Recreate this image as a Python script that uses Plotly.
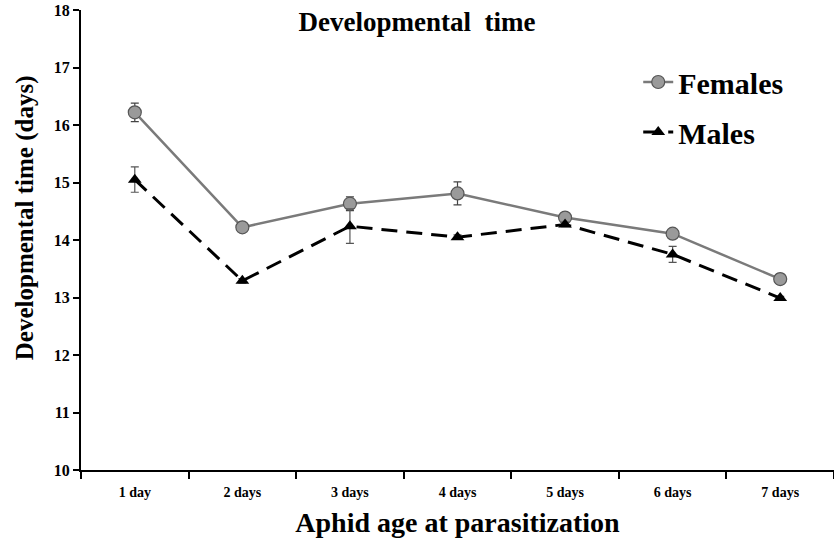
import plotly.graph_objects as go

categories = ["1 day", "2 days", "3 days", "4 days", "5 days", "6 days", "7 days"]
females = [16.22, 14.22, 14.63, 14.81, 14.39, 14.11, 13.32]
females_err = [0.16, 0.03, 0.12, 0.20, 0.05, 0.05, 0.09]
males = [15.05, 13.29, 14.24, 14.05, 14.27, 13.75, 12.99]
males_err = [0.22, 0.04, 0.30, 0.04, 0.04, 0.14, 0.03]

serif = "Liberation Serif, Times New Roman, serif"

fig = go.Figure()
fig.add_trace(go.Scatter(
    x=categories, y=females, name="Females", mode="lines+markers",
    legendgroup="f",
    line=dict(color="#7a7a7a", width=2.5),
    marker=dict(symbol="circle", size=13, color="#9a9a9a", line=dict(color="#555555", width=1.2)),
    error_y=dict(type="data", array=females_err, color="#444444", thickness=1.2, width=4),
))
fig.add_trace(go.Scatter(
    x=categories, y=males, name="Males", mode="lines+markers",
    legendgroup="m",
    line=dict(color="black", width=3, dash="16px,9px"),
    marker=dict(symbol="triangle-up", size=12, color="black"),
    error_y=dict(type="data", array=males_err, color="#555555", thickness=1.2, width=4),
))

fig.update_layout(
    width=834, height=546,
    margin=dict(l=81, r=0, t=10, b=76),
    paper_bgcolor="white", plot_bgcolor="white",
    font=dict(family=serif, color="black"),
    title=dict(text="<b>Developmental  time</b>", x=0.5, xanchor="center", y=0.96, yanchor="middle",
               font=dict(size=27, family=serif, color="black")),
    showlegend=True,
    legend=dict(x=0.74, y=0.9, xanchor="left", yanchor="top",
                font=dict(size=30, family=serif, color="black", weight="bold"),
                bgcolor="rgba(0,0,0,0)", tracegroupgap=8,
                traceorder="grouped", itemwidth=30),
    xaxis=dict(
        type="category", range=[-0.5, 6.5], tickson="boundaries",
        showline=True, linecolor="black", linewidth=2,
        ticks="outside", ticklen=7, tickwidth=1.5, tickcolor="black",
        showgrid=False, zeroline=False, ticklabelstandoff=8,
        tickfont=dict(size=14, family=serif, color="black", weight="bold"),
        title=dict(text="<b>Aphid age at parasitization</b>", font=dict(size=28, family=serif), standoff=14),
    ),
    yaxis=dict(
        range=[10, 18], dtick=1,
        showline=True, linecolor="black", linewidth=2,
        ticks="outside", ticklen=6, tickwidth=1.5, tickcolor="black",
        showgrid=False, zeroline=False,
        tickfont=dict(size=16, family=serif, color="black", weight="bold"),
    ),
    annotations=[dict(
        text="<b>Developmental time (days)</b>", textangle=-90,
        xref="paper", yref="paper", x=-0.074, y=0.548, xanchor="center", yanchor="middle",
        showarrow=False, font=dict(size=25, family=serif, color="black"),
    )],
)

fig.write_html("out.html")
